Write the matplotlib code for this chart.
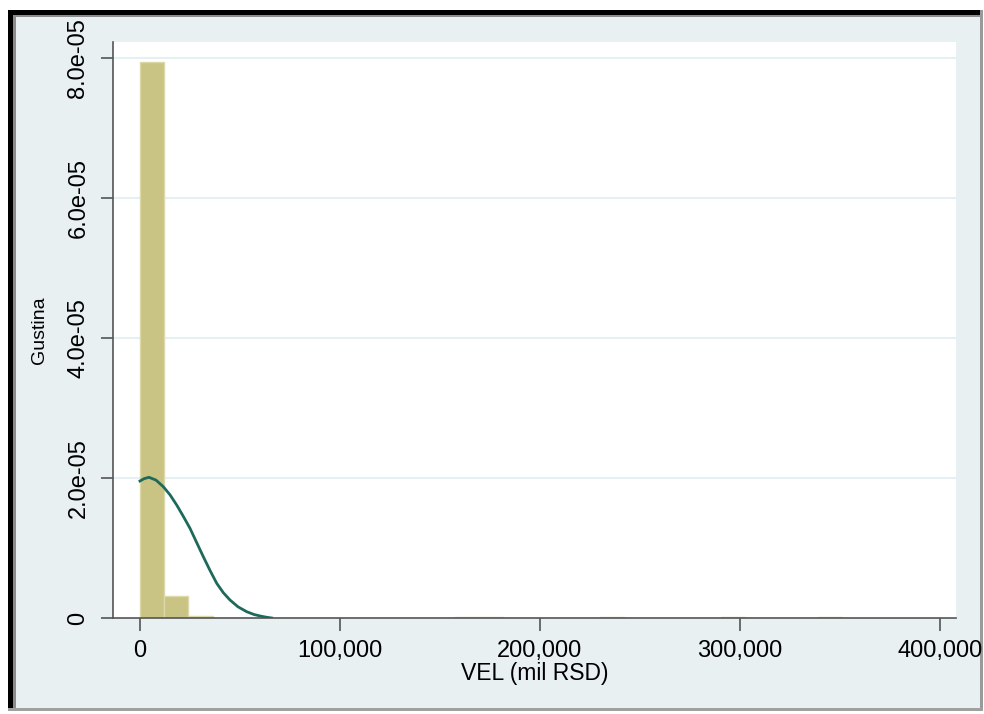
import numpy as np
import matplotlib.pyplot as plt
from matplotlib.patches import Rectangle

plt.rcParams['font.family'] = ['Liberation Sans', 'DejaVu Sans']

# histogram: bin width and density per bin (bins start at 0)
bin_width = 12100
bin_density = [7.94e-05, 3.14e-06, 2.9e-07, 0, 0, 0, 0, 0, 0, 0,
               0, 0, 0, 1.5e-07, 1.5e-07, 0, 0, 0, 0, 1.5e-07,
               0, 0, 0, 0, 1.5e-07, 0, 0, 0, 1.5e-07]

# kernel density estimate
kde_x = [0, 2000, 4500, 8000, 11650, 15000, 18350, 21700, 25000, 28300,
         31650, 35000, 38350, 41700, 45000, 49000, 53350, 57000, 60000,
         63000, 65850]
kde_y = [1.957e-05, 1.99e-05, 2.01e-05, 1.97e-05, 1.876e-05, 1.76e-05,
         1.614e-05, 1.45e-05, 1.281e-05, 1.08e-05, 8.76e-06, 6.8e-06,
         4.96e-06, 3.6e-06, 2.57e-06, 1.6e-06, 9.0e-07, 5.0e-07, 2.9e-07,
         1.2e-07, 0]

xticks = [0, 100000, 200000, 300000, 400000]
xtick_labels = ['0', '100,000', '200,000', '300,000', '400,000']
yticks = [0, 2e-05, 4e-05, 6e-05, 8e-05]
ytick_labels = ['0', '2.0e-05', '4.0e-05', '6.0e-05', '8.0e-05']

bg = '#e8f0f2'
fig = plt.figure(figsize=(9.84, 7.14), dpi=100)
fig.patch.set_facecolor('white')

# window frame around the graph
W, H = 984, 714
def px_rect(x0, y0, x1, y1, color):
    fig.patches.append(Rectangle((x0 / W, 1 - y1 / H), (x1 - x0) / W, (y1 - y0) / H,
                                 transform=fig.transFigure, facecolor=color,
                                 edgecolor='none', zorder=-5))
px_rect(8, 10, 983, 711, bg)
px_rect(8, 10, 983, 15, 'black')
px_rect(8, 10, 13, 711, 'black')
px_rect(13, 15, 983, 17, '#8c8c8c')
px_rect(13, 15, 16, 711, '#8c8c8c')
px_rect(980, 10, 983, 711, '#9a9a9a')
px_rect(8, 708, 983, 711, '#a0a0a0')

ax = fig.add_axes([113 / W, 1 - 618 / H, (956 - 113) / W, (618 - 42) / H])
ax.set_zorder(1)
ax.set_facecolor('white')

lefts = np.arange(len(bin_density)) * bin_width
ax.bar(lefts, bin_density, width=bin_width, align='edge',
       color='#c9c384', edgecolor='#dcd8a8', linewidth=1, zorder=2)
ax.plot(kde_x, kde_y, color='#1d6a5b', linewidth=2, zorder=3)

ax.set_xlim(-13500, 408000)
ax.set_ylim(0, 8.229e-05)

for y in yticks[1:]:
    ax.axhline(y, color='#e6eff1', linewidth=1.5, zorder=1)

ax.set_xticks(xticks)
ax.set_xticklabels(xtick_labels)
ax.set_yticks(yticks)
ax.set_yticklabels(ytick_labels, rotation=90, va='center')
ax.tick_params(axis='x', length=9, width=1.2, color='#555555', labelsize=17, pad=7)
ax.tick_params(axis='y', length=9, width=1.2, color='#555555', labelsize=17, pad=8)

for side in ['top', 'right']:
    ax.spines[side].set_visible(False)
for side in ['left', 'bottom']:
    ax.spines[side].set_color('#555555')
    ax.spines[side].set_linewidth(1.2)

ax.set_xlabel('VEL (mil RSD)', fontsize=16.5, labelpad=0)
ax.set_ylabel('Gustina', fontsize=14, labelpad=14)

fig.savefig('out.png', dpi=100)
